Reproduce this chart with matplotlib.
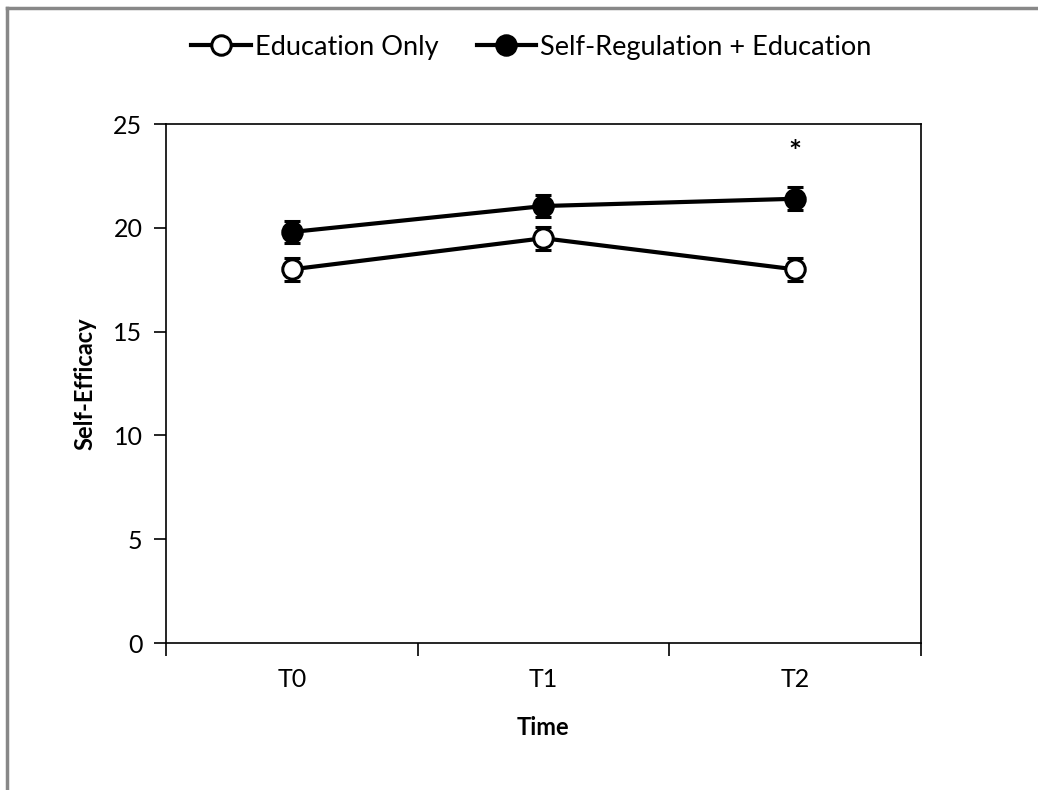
import matplotlib
matplotlib.use("Agg")
import matplotlib.pyplot as plt
from matplotlib.lines import Line2D

plt.rcParams['font.family'] = ['Lato', 'DejaVu Sans']

time_points = ['T0', 'T1', 'T2']
edu_only = [18.0, 19.5, 18.0]
edu_only_err = [0.55, 0.55, 0.55]
self_reg = [19.8, 21.05, 21.4]
self_reg_err = [0.55, 0.55, 0.55]
star_value = 23.6

fig = plt.figure(figsize=(10.38, 7.9), dpi=100)
ax = fig.add_axes([0.16, 0.186, 0.727, 0.657])

x = list(range(len(time_points)))

ax.errorbar(x, edu_only, yerr=edu_only_err, color='black', linewidth=3,
            marker='o', markersize=14, markerfacecolor='white',
            markeredgecolor='black', markeredgewidth=2.2,
            ecolor='black', elinewidth=2, capsize=6, capthick=3, zorder=3)
ax.errorbar(x, self_reg, yerr=self_reg_err, color='black', linewidth=3,
            marker='o', markersize=14, markerfacecolor='black',
            markeredgecolor='black', markeredgewidth=2.2,
            ecolor='black', elinewidth=2, capsize=6, capthick=3, zorder=3)

ax.text(2, star_value, '*', ha='center', va='center', fontsize=22, fontweight='bold')

ax.set_xlim(-0.5, 2.5)
ax.set_ylim(0, 25)
ax.set_yticks([0, 5, 10, 15, 20, 25])
ax.set_xticks([-0.5, 0.5, 1.5, 2.5])
ax.set_xticklabels([])
ax.set_xticks(x, minor=True)
ax.set_xticklabels(time_points, minor=True)
ax.tick_params(axis='x', which='major', direction='out', length=9, width=1.2)
ax.tick_params(axis='x', which='minor', length=0, labelsize=18, pad=18)
ax.tick_params(axis='y', direction='out', length=9, width=1.2, labelsize=18, pad=8)
for s in ax.spines.values():
    s.set_linewidth(1.2)

ax.set_ylabel('Self-Efficacy', fontsize=17, fontweight='bold', labelpad=12)
ax.set_xlabel('Time', fontsize=17, fontweight='bold', labelpad=18)

handles = [
    Line2D([], [], color='black', linewidth=3, marker='o', markersize=14,
           markerfacecolor='white', markeredgewidth=2.2),
    Line2D([], [], color='black', linewidth=3, marker='o', markersize=14,
           markerfacecolor='black', markeredgewidth=2.2),
]
fig.legend(handles, ['Education Only', 'Self-Regulation + Education'],
           loc='center', bbox_to_anchor=(0.512, 0.94), ncol=2, frameon=False,
           fontsize=19.5, handlelength=2.2, handletextpad=0.15, columnspacing=1.4)

# grey screenshot frame on top and left
fig.add_artist(Line2D([0.0067, 1.0], [0.99, 0.99], transform=fig.transFigure,
                      color='#888888', linewidth=2.5))
fig.add_artist(Line2D([0.0067, 0.0067], [0.0, 0.99], transform=fig.transFigure,
                      color='#888888', linewidth=2.5))

fig.savefig('out.png', dpi=100)
